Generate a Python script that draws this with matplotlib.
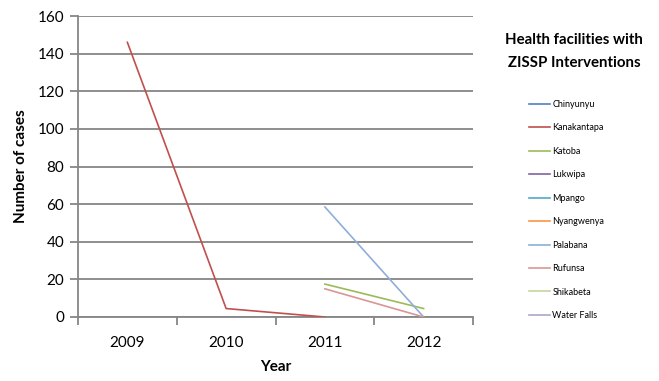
import numpy as np
import matplotlib.pyplot as plt
from matplotlib.lines import Line2D

plt.rcParams['font.family'] = ['Lato', 'DejaVu Sans']

years = ['2009', '2010', '2011', '2012']
facilities = ['Chinyunyu', 'Kanakantapa', 'Katoba', 'Lukwipa', 'Mpango',
              'Nyangwenya', 'Palabana', 'Rufunsa', 'Shikabeta', 'Water Falls']
colors = ['#4F81BD', '#C0504D', '#9BBB59', '#8064A2', '#4BACC6',
          '#F79646', '#8FAED8', '#D99694', '#C3D69B', '#B3A2C7']

nan = np.nan
# cases per facility per year (nan = no record)
chinyunyu   = [nan, nan, nan, nan]
kanakantapa = [146, 4.5, 0, nan]
katoba      = [nan, nan, 17.5, 4.5]
lukwipa     = [nan, nan, nan, nan]
mpango      = [nan, nan, nan, nan]
nyangwenya  = [nan, nan, nan, nan]
palabana    = [nan, nan, 58.5, 0]
rufunsa     = [nan, nan, 15, 0]
shikabeta   = [nan, nan, nan, nan]
water_falls = [nan, nan, nan, nan]

series = [chinyunyu, kanakantapa, katoba, lukwipa, mpango,
          nyangwenya, palabana, rufunsa, shikabeta, water_falls]

fig = plt.figure(figsize=(6.59, 3.81), dpi=100)
ax = fig.add_axes([78/659, (381-317)/381, (473-78)/659, (317-16)/381])

x = np.arange(len(years))
for vals, c in zip(series, colors):
    ax.plot(x, vals, color=c, lw=1.2, zorder=3)

ax.set_xlim(-0.5, len(years) - 0.5)
ax.set_ylim(0, 160)
ax.set_yticks(range(0, 161, 20))
ax.set_xticks(x)
ax.set_xticklabels(years)
ax.set_xticks(np.arange(-0.5, len(years)), minor=True)
ax.tick_params(axis='x', which='major', length=0, pad=14, labelsize=11)
ax.tick_params(axis='x', which='minor', length=6, width=1.3, color='#868686')
ax.tick_params(axis='y', length=6, width=1.3, color='#868686', labelsize=11, pad=4)
ax.grid(axis='y', color='#868686', lw=1.3, zorder=1)
for s in ['top', 'right']:
    ax.spines[s].set_visible(False)
for s in ['left', 'bottom']:
    ax.spines[s].set_color('#868686')
    ax.spines[s].set_linewidth(1.3)

ax.set_xlabel('Year', fontsize=11, fontweight='bold', labelpad=7)
ax.set_ylabel('Number of cases', fontsize=11, fontweight='bold', labelpad=7)

fig.text(574/659, 1 - 40/381, 'Health facilities with', ha='center', va='center',
         fontsize=10.8, fontweight='bold')
fig.text(574/659, 1 - 63/381, 'ZISSP Interventions', ha='center', va='center',
         fontsize=10.8, fontweight='bold')

handles = [Line2D([], [], color=c, lw=1.2) for c in colors]
fig.legend(handles, facilities, loc='upper left', bbox_to_anchor=(529/659, 1 - 100/381),
           frameon=False, fontsize=6.5, handlelength=2.3, handletextpad=0.3,
           labelspacing=1.6, borderaxespad=0, borderpad=0)

fig.savefig('out.png', dpi=100)
